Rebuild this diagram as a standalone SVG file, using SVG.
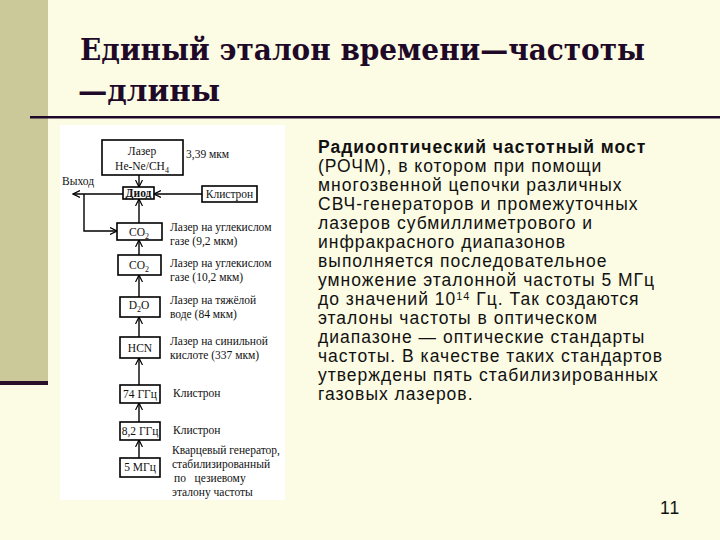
<svg xmlns="http://www.w3.org/2000/svg" width="720" height="540" viewBox="0 0 720 540">
<style>
.t{font-family:"DejaVu Serif",serif;font-weight:700;font-size:30px;fill:#1e0a28}
.b{fill:#fff;stroke:#000;stroke-width:1.6}
.s{font-family:"Liberation Serif",serif;font-size:11.5px;fill:#111}
.bx{font-family:"Liberation Serif",serif;font-size:11.5px;fill:#111;text-anchor:middle}
.p{font-family:"Liberation Sans",sans-serif;font-size:17.5px;letter-spacing:1px;fill:#111}
.c{stroke:#000;stroke-width:1.4;fill:none;marker-end:url(#a)}
</style>
<defs><marker id="a" markerWidth="8" markerHeight="8" refX="7" refY="4" orient="auto" markerUnits="userSpaceOnUse"><path d="M0,0.5 L7,4 L0,7.5" fill="none" stroke="#000" stroke-width="1.2"/></marker></defs>
<rect width="720" height="540" fill="#fcfbe3"/>
<rect x="0" y="0" width="48" height="381" fill="#cbc999"/>
<rect x="0" y="381" width="48" height="4" fill="#2a0f2a"/>
<rect x="30" y="116" width="690" height="2.5" fill="#1e0a28"/>
<text class="t" x="80" y="60" textLength="565" lengthAdjust="spacingAndGlyphs">Единый эталон времени—частоты</text>
<text class="t" x="78" y="101" textLength="142" lengthAdjust="spacingAndGlyphs">—длины</text>
<rect x="60" y="125" width="225" height="375" fill="#fff"/>
<g id="connectors">
<line class="c" x1="139" y1="175" x2="139" y2="187"/>
<line class="c" x1="202" y1="194" x2="154" y2="194"/>
<polyline class="c" points="123,194 73,194"/>
<polyline class="c" points="84,194 84,231 117,231"/>
<line class="c" x1="139" y1="223" x2="139" y2="199"/>
<line class="c" x1="139" y1="255" x2="139" y2="240"/>
<line class="c" x1="139" y1="297" x2="139" y2="275"/>
<line class="c" x1="139" y1="337" x2="139" y2="317"/>
<line class="c" x1="139" y1="385" x2="139" y2="358"/>
<line class="c" x1="139" y1="422" x2="139" y2="403"/>
<line class="c" x1="139" y1="458" x2="139" y2="440"/>
</g>
<g id="laser"><rect class="b" x="102" y="140" width="81" height="35"/><text class="bx" x="142" y="155">Лазер</text><text class="bx" x="142" y="170">He-Ne/CH<tspan font-size="8" dy="3">4</tspan></text><text class="s" x="186" y="158">3,39 мкм</text></g>
<g id="vyhod"><text class="s" x="62" y="185">Выход</text></g>
<g id="diod"><rect class="b" x="123" y="187" width="31" height="12"/><text class="bx" x="138.5" y="197" font-weight="bold" font-size="11">Диод</text></g>
<g id="klistron1"><rect class="b" x="202" y="186" width="55" height="16"/><text class="bx" x="229.5" y="198">Клистрон</text></g>
<g id="co2a"><rect class="b" x="117" y="223" width="45" height="17"/><text class="bx" x="139" y="236">CO<tspan font-size="8" dy="3">2</tspan></text><text class="s" x="170" y="231">Лазер на углекислом</text><text class="s" x="170" y="245">газе (9,2 мкм)</text></g>
<g id="co2b"><rect class="b" x="118" y="255" width="43" height="20"/><text class="bx" x="139" y="269">CO<tspan font-size="8" dy="3">2</tspan></text><text class="s" x="170" y="267">Лазер на углекислом</text><text class="s" x="170" y="281">газе (10,2 мкм)</text></g>
<g id="d2o"><rect class="b" x="120" y="297" width="40" height="20"/><text class="bx" x="139" y="309">D<tspan font-size="8" dy="3">2</tspan><tspan dy="-3">O</tspan></text><text class="s" x="170" y="304">Лазер на тяжёлой</text><text class="s" x="170" y="318">воде (84 мкм)</text></g>
<g id="hcn"><rect class="b" x="120" y="337" width="40" height="21"/><text class="bx" x="140" y="352">HCN</text><text class="s" x="170" y="345">Лазер на синильной</text><text class="s" x="170" y="359">кислоте (337 мкм)</text></g>
<g id="g74"><rect class="b" x="120" y="385" width="40" height="18"/><text class="bx" x="140" y="398">74 ГГц</text><text class="s" x="173" y="397">Клистрон</text></g>
<g id="g82"><rect class="b" x="120" y="422" width="40" height="18"/><text class="bx" x="140" y="435">8,2 ГГц</text><text class="s" x="173" y="434">Клистрон</text></g>
<g id="m5"><rect class="b" x="120" y="458" width="40" height="19"/><text class="bx" x="140" y="471">5 МГц</text><text class="s" x="172" y="454">Кварцевый генератор,</text><text class="s" x="172" y="468">стабилизированный</text><text class="s" x="174" y="482" xml:space="preserve">по   цезиевому</text><text class="s" x="172" y="496">эталону частоты</text></g>
<g id="text">
<text class="p" x="318" y="153" font-weight="bold">Радиооптический частотный мост</text>
<text class="p" x="318" y="172">(РОЧМ), в котором при помощи</text>
<text class="p" x="318" y="191">многозвенной цепочки различных</text>
<text class="p" x="318" y="210">СВЧ-генераторов и промежуточных</text>
<text class="p" x="318" y="229">лазеров субмиллиметрового и</text>
<text class="p" x="318" y="248">инфракрасного диапазонов</text>
<text class="p" x="318" y="267">выполняется последовательное</text>
<text class="p" x="318" y="286">умножение эталонной частоты 5 МГц</text>
<text class="p" x="318" y="305">до значений 10<tspan font-size="11" dy="-5">14</tspan><tspan dy="5"> Гц. Так создаются</tspan></text>
<text class="p" x="318" y="324">эталоны частоты в оптическом</text>
<text class="p" x="318" y="343">диапазоне — оптические стандарты</text>
<text class="p" x="318" y="362">частоты. В качестве таких стандартов</text>
<text class="p" x="318" y="381">утверждены пять стабилизированных</text>
<text class="p" x="318" y="400">газовых лазеров.</text>
<text class="p" x="660" y="514">11</text>
</g>
</svg>
